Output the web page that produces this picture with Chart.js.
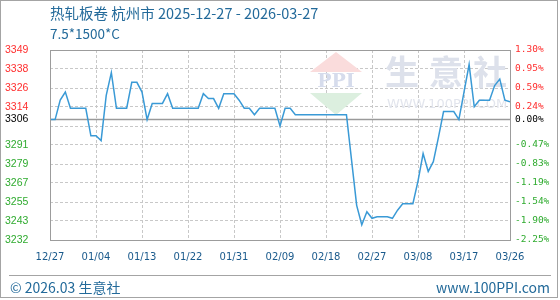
<!DOCTYPE html>
<html lang="zh-CN">
<head>
<meta charset="utf-8">
<title>热轧板卷 杭州市</title>
<script src="https://cdn.jsdelivr.net/npm/chart.js@4.4.1/dist/chart.umd.min.js"></script>
<style>
    html, body { margin: 0; padding: 0; background: #fff; }
    #wrap { position: relative; width: 560px; height: 300px; overflow: hidden; }
    #frame { position: absolute; left: 0; top: 0; width: 556px; height: 296px; border: 1px solid #a4a4a4; }
    #chart { position: absolute; left: 0; top: 0; }
    .txt { position: absolute; font-family: "Noto Sans CJK SC", sans-serif; color: #236a9a; white-space: nowrap; line-height: 1; }
    #title { left: 50px; top: 6px; font-size: 14.5px; }
    #sub { left: 50px; top: 26.5px; font-size: 13.5px; }
    #sep { position: absolute; left: 9px; top: 275px; width: 542px; height: 1px; background: #a4a4a4; }
    #copy { left: 10px; top: 280px; font-size: 14px; }
    #site { right: 10px; top: 280px; font-size: 14px; }
</style>
</head>
<body>
<div id="wrap">
    <div id="frame"></div>
    <canvas id="chart" width="560" height="300"></canvas>
    <div class="txt" id="title">热轧板卷 杭州市 2025-12-27 - 2026-03-27</div>
    <div class="txt" id="sub">7.5*1500*C</div>
    <div id="sep"></div>
    <div class="txt" id="copy">© 2026.03 生意社</div>
    <div class="txt" id="site">www.100PPI.com</div>
</div>
<script>
// daily price, index = days since 2025-12-27
const prices = [
    3306, 3306, 3318, 3323, 3313, 3313, 3313, 3313, 3296, 3296,
    3293, 3321, 3335, 3313, 3313, 3313, 3329, 3329, 3323, 3306,
    3316, 3316, 3316, 3322, 3313, 3313, 3313, 3313, 3313, 3313,
    3322, 3319, 3319, 3313, 3322, 3322, 3322, 3318, 3313, 3313,
    3309, 3313, 3313, 3313, 3313, 3302, 3313, 3313, 3309, 3309,
    3309, 3309, 3309, 3309, 3309, 3309, 3309, 3309, 3309, 3281,
    3253, 3241, 3249, 3245, 3246, 3246, 3246, 3245, 3250, 3254,
    3254, 3254, 3268, 3285, 3274, 3280, 3295, 3311, 3311, 3311,
    3306, 3323, 3340, 3314, 3318, 3318, 3318, 3327, 3331, 3318,
    3317
];

const baseValue = 3306;
const yMin = 3231.6;
const yMax = 3349;

// y ticks: 10 grid intervals plus the base price line
const yTicks = [3349, 3337.26, 3325.52, 3313.78, 3306, 3302.04, 3290.3, 3278.56, 3266.82, 3255.08, 3243.34, 3231.6];
const leftLabels = ["3349", "3338", "3326", "3314", "3306", "", "3291", "3279", "3267", "3255", "3243", "3232"];
const rightLabels = ["1.30%", "0.95%", "0.59%", "0.24%", "0.00%", "", "-0.47%", "-0.83%", "-1.19%", "-1.54%", "-1.90%", "-2.25%"];

const xTicks = [0, 9, 18, 27, 36, 45, 54, 63, 72, 81, 90];
const xLabels = ["12/27", "01/04", "01/13", "01/22", "01/31", "02/09", "02/18", "02/27", "03/08", "03/17", "03/26"];

function labelColor(value) {
    if (value > baseValue) return "#ff2e2e";
    if (value < baseValue - 1) return "#2fab2f";
    return "#000";
}

// faint logo behind the plot
const watermark = {
    id: "watermark",
    beforeDatasetsDraw(chart) {
        const ctx = chart.ctx;
        ctx.save();
        ctx.fillStyle = "#fadcdc";
        ctx.beginPath();
        ctx.moveTo(336, 52);
        ctx.lineTo(362, 72);
        ctx.lineTo(310, 72);
        ctx.closePath();
        ctx.fill();
        ctx.fillStyle = "#dcefdf";
        ctx.beginPath();
        ctx.moveTo(310, 93);
        ctx.lineTo(362, 93);
        ctx.lineTo(336, 115);
        ctx.closePath();
        ctx.fill();
        ctx.textAlign = "center";
        ctx.textBaseline = "middle";
        ctx.fillStyle = "#d6dcec";
        ctx.font = "bold 19px 'DejaVu Serif'";
        ctx.fillText("PPI", 336, 82);
        ctx.fillStyle = "#dde1eb";
        ctx.font = "bold 34px 'Noto Sans CJK SC'";
        ["生", "意", "社"].forEach((c, i) => ctx.fillText(c, 402 + i * 44, 72));
        ctx.fillStyle = "#e2e5ed";
        ctx.font = "13px 'DejaVu Sans'";
        ctx.fillText("WWW.100PPI.COM", 447, 105);
        ctx.restore();
    },
};

// solid base line at the start price
const baseLine = {
    id: "baseLine",
    beforeDatasetsDraw(chart) {
        const ctx = chart.ctx;
        const area = chart.chartArea;
        const y = chart.scales.y.getPixelForValue(baseValue);
        ctx.save();
        ctx.strokeStyle = "#9a9a9a";
        ctx.lineWidth = 1.5;
        ctx.beginPath();
        ctx.moveTo(area.left, y);
        ctx.lineTo(area.right, y);
        ctx.stroke();
        ctx.restore();
    },
};

const plotFrame = {
    id: "plotFrame",
    afterDatasetsDraw(chart) {
        const ctx = chart.ctx;
        const a = chart.chartArea;
        ctx.save();
        ctx.strokeStyle = "#9c9c9c";
        ctx.lineWidth = 1;
        ctx.strokeRect(a.left + 0.5, a.top + 0.5, a.right - a.left, a.bottom - a.top);
        ctx.restore();
    },
};

new Chart(document.getElementById("chart"), {
    type: "line",
    data: {
        datasets: [
            {
                data: prices.map((v, i) => ({ x: i, y: v })),
                borderColor: "#3a9ad6",
                borderWidth: 1.5,
                pointRadius: 0,
                tension: 0,
                fill: false,
            },
        ],
    },
    options: {
        responsive: false,
        animation: false,
        devicePixelRatio: 1,
        layout: { padding: { left: 5, right: 5, top: 50, bottom: 0 } },
        plugins: {
            legend: { display: false },
            tooltip: { enabled: false },
        },
        scales: {
            x: {
                type: "linear",
                min: 0,
                max: 90,
                afterBuildTicks: (scale) => {
                    scale.ticks = xTicks.map((v) => ({ value: v }));
                },
                afterFit: (scale) => {
                    scale.height = 60;
                },
                grid: { color: "#c8c8c8", drawTicks: false },
                border: { display: false, dash: [3, 2] },
                ticks: {
                    autoSkip: false,
                    maxRotation: 0,
                    padding: 11,
                    color: "#1a5a8c",
                    font: { family: "DejaVu Sans", size: 10 },
                    callback: (value, index) => xLabels[index],
                },
            },
            y: {
                position: "left",
                min: yMin,
                max: yMax,
                afterBuildTicks: (scale) => {
                    scale.ticks = yTicks.map((v) => ({ value: v }));
                },
                afterFit: (scale) => {
                    scale.width = 45;
                },
                grid: {
                    drawTicks: false,
                    color: (ctx) => (ctx.tick && ctx.tick.value === baseValue ? "rgba(0,0,0,0)" : "#c8c8c8"),
                },
                border: { display: false, dash: [3, 2] },
                ticks: {
                    autoSkip: false,
                    crossAlign: "far",
                    padding: 5,
                    color: (ctx) => labelColor(ctx.tick.value),
                    font: { family: "Liberation Sans", size: 10.5 },
                    callback: (value, index) => leftLabels[index],
                },
            },
            y2: {
                position: "right",
                min: yMin,
                max: yMax,
                afterBuildTicks: (scale) => {
                    scale.ticks = yTicks.map((v) => ({ value: v }));
                },
                afterFit: (scale) => {
                    scale.width = 45;
                },
                grid: { display: false, drawTicks: false },
                border: { display: false },
                ticks: {
                    autoSkip: false,
                    crossAlign: "near",
                    padding: 5,
                    color: (ctx) => labelColor(ctx.tick.value),
                    font: { family: "DejaVu Sans Mono", size: 9.5 },
                    callback: (value, index) => rightLabels[index],
                },
            },
        },
    },
    plugins: [watermark, baseLine, plotFrame],
});
</script>
</body>
</html>
